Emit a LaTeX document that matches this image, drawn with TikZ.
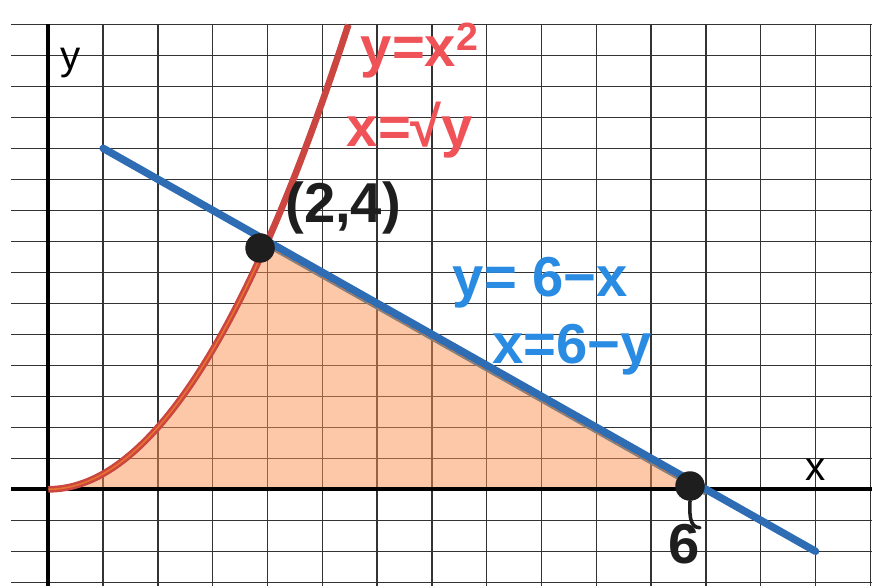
\documentclass[tikz,border=0pt]{standalone}
\usepackage{fontspec}
\setmainfont{Liberation Sans}

\definecolor{curvered}{HTML}{CB4641}
\definecolor{labelred}{HTML}{EF5257}
\definecolor{lineblue}{HTML}{2E6DB4}
\definecolor{labelblue}{HTML}{2A8BE2}
\definecolor{regionfill}{HTML}{FB9151}
\definecolor{inkblack}{HTML}{1E1E1E}
\definecolor{edgeorange}{HTML}{E8732C}

\tikzset{
    gridline/.style={black!80, line width=0.7pt},
    axis/.style={black, line width=2.3pt},
    axislabel/.style={font=\fontsize{23}{26}\selectfont, inner sep=0pt},
    handtext/.style={font=\bfseries\fontsize{32}{36}\selectfont, inner sep=0pt},
    dot/.style={circle, fill=inkblack, minimum size=0.59cm, inner sep=0pt},
}

\begin{document}
\begin{tikzpicture}[x=2.192cm, y=1.24cm]
    \useasboundingbox (-0.4407,-1.5597) rectangle (7.5155,7.8919);

    % Draw grid
    \foreach \yy in {-1.5,-1,...,7.5} {
        \draw[gridline] (-0.34,\yy) -- (7.5155,\yy);
    }
    \foreach \xx in {0.5,1,...,7.5} {
        \draw[gridline] (\xx,7.5) -- (\xx,-1.5597);
    }

    % Shade the region between the curve, the line and the x-axis
    \fill[regionfill, fill opacity=0.5] (0,0) -- plot[domain=0:2,samples=50] (\x,{\x*\x}) -- (6,0) -- cycle;

    % Draw axes
    \draw[axis] (-0.34,0) -- (7.5155,0);
    \draw[axis] (0,7.5) -- (0,-1.5597);
    \node[axislabel] (xlabel) at (7.005,0.311) {x};
    \node[axislabel] (ylabel) at (0.207,6.88) {y};

    % Draw the parabola and the line
    \draw[curvered, line width=3.8pt, domain=0:2.7386, samples=80] plot (\x,{\x*\x});
    \draw[edgeorange, line width=0.9pt, domain=0:2, samples=50] plot (\x,{\x*\x});
    \draw[gray, line width=2pt, yshift=-0.09cm] (2,4) -- (6,0);
    \draw[edgeorange, line width=0.6pt, dashed, yshift=-0.09cm] (2,4) -- (6,0);
    \draw[lineblue, line width=4.25pt, line cap=round] (0.5,5.5) -- (7,-1);

    % Mark the intersection points
    \node[dot] (P) at (1.932,3.892) {};
    \node[dot] (Q) at (5.855,0.053) {};
    \coordinate (tailend) at (5.945,-0.62);
    \draw[inkblack, line width=2pt, line cap=round] (Q.south) to[out=-92,in=180] (tailend);

    % Add labels
    \node[handtext, labelred] (parab) at (3.39,7.07) {y=x\textsuperscript{2}};
    \node[handtext, labelred] (root) at (3.30,5.80) {x=√y};
    \node[handtext, inkblack] (pt) at (2.69,4.54) {(2,4)};
    \node[handtext, labelblue] (lineeq) at (4.49,3.34) {y= 6−x};
    \node[handtext, labelblue] (lineinv) at (4.78,2.25) {x=6−y};
    \node[handtext, inkblack] (six) at (5.80,-0.88) {6};
\end{tikzpicture}
\end{document}
